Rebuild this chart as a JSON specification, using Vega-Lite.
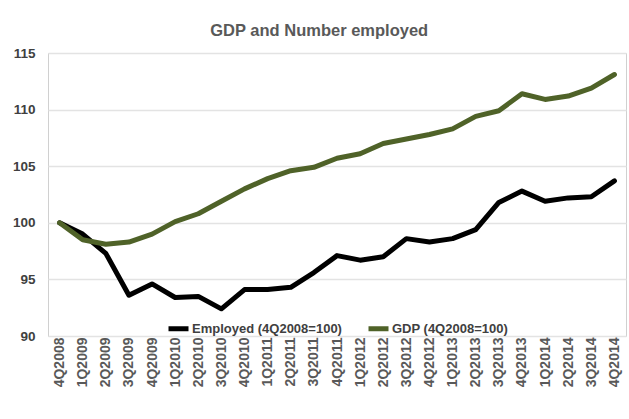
{
  "$schema": "https://vega.github.io/schema/vega-lite/v6.json",
  "autosize": {"type": "none"},
  "width": 578,
  "height": 283,
  "padding": {"left": 48, "top": 53, "right": 3, "bottom": 83},
  "background": "white",
  "title": {
    "text": "GDP and Number employed",
    "font": "Liberation Sans",
    "fontSize": 16.5,
    "fontWeight": "bold",
    "color": "#595959",
    "anchor": "middle",
    "frame": "bounds",
    "offset": 7
  },
  "config": {
    "view": {"stroke": "#d0d0d0", "strokeWidth": 1},
    "font": "Liberation Sans"
  },
  "data": {
    "values": [
      {"q": "4Q2008", "s": "Employed (4Q2008=100)", "v": 100.0},
      {"q": "1Q2009", "s": "Employed (4Q2008=100)", "v": 99.0},
      {"q": "2Q2009", "s": "Employed (4Q2008=100)", "v": 97.3},
      {"q": "3Q2009", "s": "Employed (4Q2008=100)", "v": 93.6},
      {"q": "4Q2009", "s": "Employed (4Q2008=100)", "v": 94.6},
      {"q": "1Q2010", "s": "Employed (4Q2008=100)", "v": 93.4},
      {"q": "2Q2010", "s": "Employed (4Q2008=100)", "v": 93.5},
      {"q": "3Q2010", "s": "Employed (4Q2008=100)", "v": 92.4},
      {"q": "4Q2010", "s": "Employed (4Q2008=100)", "v": 94.1},
      {"q": "1Q2011", "s": "Employed (4Q2008=100)", "v": 94.1},
      {"q": "2Q2011", "s": "Employed (4Q2008=100)", "v": 94.3},
      {"q": "3Q2011", "s": "Employed (4Q2008=100)", "v": 95.6},
      {"q": "4Q2011", "s": "Employed (4Q2008=100)", "v": 97.1},
      {"q": "1Q2012", "s": "Employed (4Q2008=100)", "v": 96.7},
      {"q": "2Q2012", "s": "Employed (4Q2008=100)", "v": 97.0},
      {"q": "3Q2012", "s": "Employed (4Q2008=100)", "v": 98.6},
      {"q": "4Q2012", "s": "Employed (4Q2008=100)", "v": 98.3},
      {"q": "1Q2013", "s": "Employed (4Q2008=100)", "v": 98.6},
      {"q": "2Q2013", "s": "Employed (4Q2008=100)", "v": 99.4},
      {"q": "3Q2013", "s": "Employed (4Q2008=100)", "v": 101.8},
      {"q": "4Q2013", "s": "Employed (4Q2008=100)", "v": 102.8},
      {"q": "1Q2014", "s": "Employed (4Q2008=100)", "v": 101.9},
      {"q": "2Q2014", "s": "Employed (4Q2008=100)", "v": 102.2},
      {"q": "3Q2014", "s": "Employed (4Q2008=100)", "v": 102.3},
      {"q": "4Q2014", "s": "Employed (4Q2008=100)", "v": 103.7},
      {"q": "4Q2008", "s": "GDP (4Q2008=100)", "v": 100.0},
      {"q": "1Q2009", "s": "GDP (4Q2008=100)", "v": 98.5},
      {"q": "2Q2009", "s": "GDP (4Q2008=100)", "v": 98.1},
      {"q": "3Q2009", "s": "GDP (4Q2008=100)", "v": 98.3},
      {"q": "4Q2009", "s": "GDP (4Q2008=100)", "v": 99.0},
      {"q": "1Q2010", "s": "GDP (4Q2008=100)", "v": 100.1},
      {"q": "2Q2010", "s": "GDP (4Q2008=100)", "v": 100.8},
      {"q": "3Q2010", "s": "GDP (4Q2008=100)", "v": 101.9},
      {"q": "4Q2010", "s": "GDP (4Q2008=100)", "v": 103.0},
      {"q": "1Q2011", "s": "GDP (4Q2008=100)", "v": 103.9},
      {"q": "2Q2011", "s": "GDP (4Q2008=100)", "v": 104.6},
      {"q": "3Q2011", "s": "GDP (4Q2008=100)", "v": 104.9},
      {"q": "4Q2011", "s": "GDP (4Q2008=100)", "v": 105.7},
      {"q": "1Q2012", "s": "GDP (4Q2008=100)", "v": 106.1},
      {"q": "2Q2012", "s": "GDP (4Q2008=100)", "v": 107.0},
      {"q": "3Q2012", "s": "GDP (4Q2008=100)", "v": 107.4},
      {"q": "4Q2012", "s": "GDP (4Q2008=100)", "v": 107.8},
      {"q": "1Q2013", "s": "GDP (4Q2008=100)", "v": 108.3},
      {"q": "2Q2013", "s": "GDP (4Q2008=100)", "v": 109.4},
      {"q": "3Q2013", "s": "GDP (4Q2008=100)", "v": 109.9},
      {"q": "4Q2013", "s": "GDP (4Q2008=100)", "v": 111.4},
      {"q": "1Q2014", "s": "GDP (4Q2008=100)", "v": 110.9},
      {"q": "2Q2014", "s": "GDP (4Q2008=100)", "v": 111.2},
      {"q": "3Q2014", "s": "GDP (4Q2008=100)", "v": 111.9},
      {"q": "4Q2014", "s": "GDP (4Q2008=100)", "v": 113.1}
    ]
  },
  "mark": {"type": "line", "strokeWidth": 5, "strokeJoin": "round", "strokeCap": "round"},
  "encoding": {
    "x": {
      "field": "q",
      "type": "ordinal",
      "sort": null,
      "title": null,
      "axis": {
        "labelAngle": 270,
        "labelFont": "Liberation Sans",
        "labelFontSize": 14,
        "labelFontWeight": "bold",
        "labelColor": "#595959",
        "labelPadding": 1,
        "ticks": false,
        "domain": false,
        "grid": false
      }
    },
    "y": {
      "field": "v",
      "type": "quantitative",
      "title": null,
      "scale": {"domain": [90, 115], "zero": false, "nice": false},
      "axis": {
        "values": [90, 95, 100, 105, 110, 115],
        "labelFont": "Liberation Sans",
        "labelFontSize": 13.5,
        "labelFontWeight": "bold",
        "labelColor": "#404040",
        "labelPadding": 13,
        "ticks": false,
        "domain": false,
        "gridColor": "#e3e3e3",
        "gridWidth": 1.5
      }
    },
    "color": {
      "field": "s",
      "type": "nominal",
      "scale": {
        "domain": ["Employed (4Q2008=100)", "GDP (4Q2008=100)"],
        "range": ["#000000", "#4F6228"]
      },
      "legend": {
        "title": null,
        "orient": "none",
        "direction": "horizontal",
        "legendX": 118,
        "legendY": 263,
        "symbolType": "stroke",
        "symbolStrokeWidth": 5,
        "symbolSize": 400,
        "labelFont": "Liberation Sans",
        "labelFontSize": 13,
        "labelFontWeight": "bold",
        "labelColor": "#404040",
        "columnPadding": 16,
        "labelOffset": 1
      }
    }
  }
}
